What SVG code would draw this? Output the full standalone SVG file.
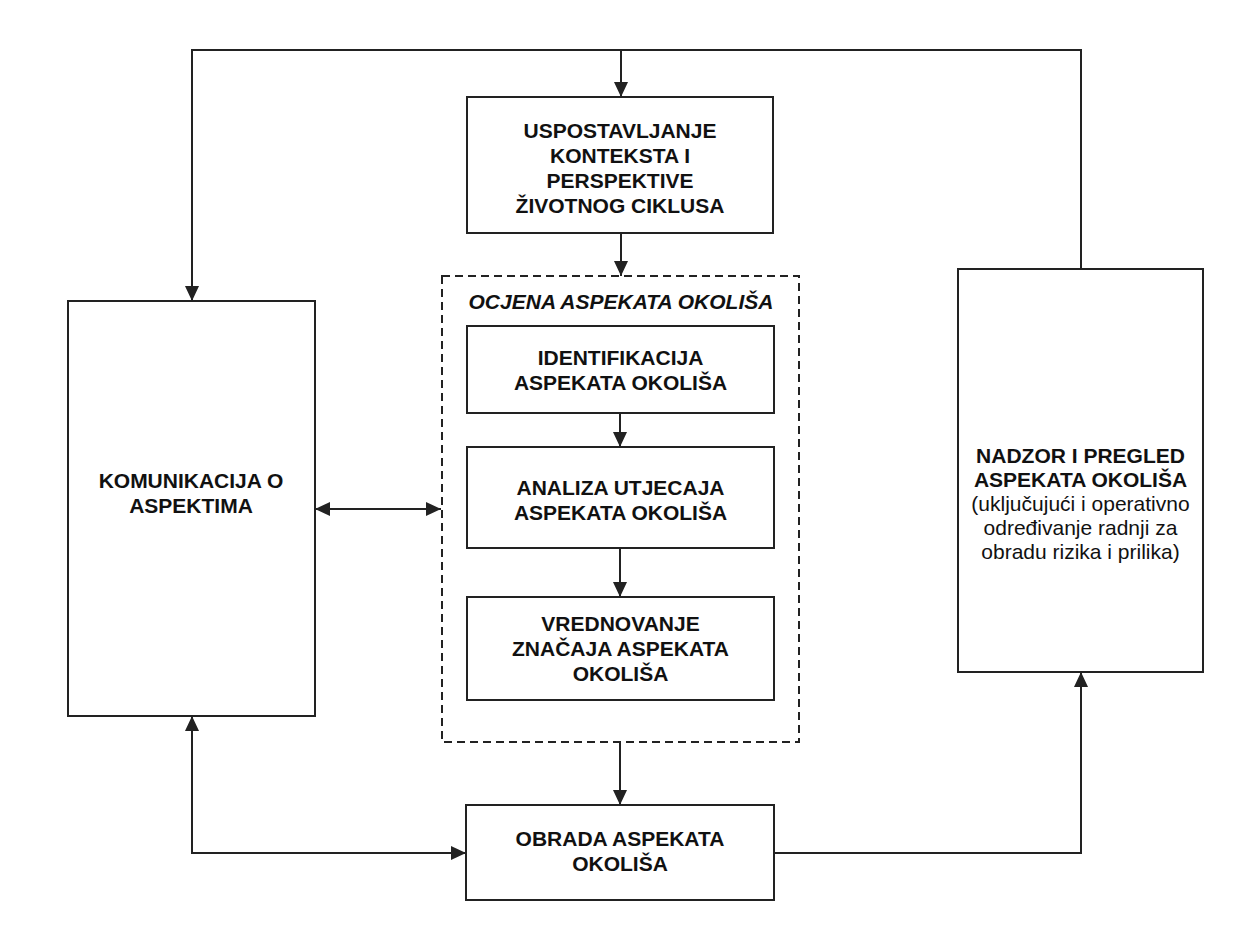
<svg xmlns="http://www.w3.org/2000/svg" width="1260" height="926" viewBox="0 0 1260 926">
  <defs>
    <marker id="arr" markerWidth="15" markerHeight="14" refX="15" refY="7" orient="auto-start-reverse" markerUnits="userSpaceOnUse">
      <path d="M0,0 L15,7 L0,14 Z" fill="#222"/>
    </marker>
    <style>
      .box { fill: #fff; stroke: #222; stroke-width: 2; }
      .dash { fill: none; stroke: #222; stroke-width: 2; stroke-dasharray: 8 5; }
      .con { fill: none; stroke: #222; stroke-width: 2; }
      .t { font-family: "Liberation Sans", Arial, sans-serif; font-size: 21px; font-weight: bold; fill: #111; text-anchor: middle; }
      .r { font-weight: normal; }
      .it { font-style: italic; }
    </style>
  </defs>
  <rect width="1260" height="926" fill="#fff"/>

  <g id="connectors">
    <polyline class="con" points="1081,269 1081,50 192,50 192,301" marker-end="url(#arr)"/>
    <line class="con" x1="621" y1="50" x2="621" y2="97" marker-end="url(#arr)"/>
    <line class="con" x1="621" y1="233" x2="621" y2="276" marker-end="url(#arr)"/>
    <line class="con" x1="620" y1="413" x2="620" y2="447" marker-end="url(#arr)"/>
    <line class="con" x1="620" y1="548" x2="620" y2="597" marker-end="url(#arr)"/>
    <line class="con" x1="620" y1="742" x2="620" y2="805" marker-end="url(#arr)"/>
    <line class="con" x1="315" y1="509" x2="441" y2="509" marker-start="url(#arr)" marker-end="url(#arr)"/>
    <polyline class="con" points="192,716 192,853 466,853" marker-start="url(#arr)" marker-end="url(#arr)"/>
    <polyline class="con" points="774,853 1081,853 1081,672" marker-end="url(#arr)"/>
  </g>

  <g id="kontekst">
    <rect class="box" x="467" y="97" width="306" height="136"/>
    <text class="t" x="620" y="137.5">USPOSTAVLJANJE</text>
    <text class="t" x="620" y="162.5">KONTEKSTA I</text>
    <text class="t" x="620" y="187.5">PERSPEKTIVE</text>
    <text class="t" x="620" y="212.5">ŽIVOTNOG CIKLUSA</text>
  </g>

  <g id="ocjena">
    <rect class="dash" x="442" y="276" width="357" height="466"/>
    <text class="t it" x="621" y="309">OCJENA ASPEKATA OKOLIŠA</text>
  </g>

  <g id="identifikacija">
    <rect class="box" x="467" y="326" width="307" height="87"/>
    <text class="t" x="620.5" y="364.5">IDENTIFIKACIJA</text>
    <text class="t" x="620.5" y="389.5">ASPEKATA OKOLIŠA</text>
  </g>

  <g id="analiza">
    <rect class="box" x="467" y="447" width="307" height="101"/>
    <text class="t" x="620.5" y="494.5">ANALIZA UTJECAJA</text>
    <text class="t" x="620.5" y="519.5">ASPEKATA OKOLIŠA</text>
  </g>

  <g id="vrednovanje">
    <rect class="box" x="467" y="597" width="307" height="103"/>
    <text class="t" x="620.5" y="630.5">VREDNOVANJE</text>
    <text class="t" x="620.5" y="655.5">ZNAČAJA ASPEKATA</text>
    <text class="t" x="620.5" y="680.5">OKOLIŠA</text>
  </g>

  <g id="obrada">
    <rect class="box" x="466" y="805" width="308" height="95"/>
    <text class="t" x="620" y="845.5">OBRADA ASPEKATA</text>
    <text class="t" x="620" y="870.5">OKOLIŠA</text>
  </g>

  <g id="komunikacija">
    <rect class="box" x="68" y="301" width="247" height="415"/>
    <text class="t" x="191" y="487.5">KOMUNIKACIJA O</text>
    <text class="t" x="191" y="512.5">ASPEKTIMA</text>
  </g>

  <g id="nadzor">
    <rect class="box" x="958" y="269" width="245" height="403"/>
    <text class="t" x="1080.5" y="462.5">NADZOR I PREGLED</text>
    <text class="t" x="1080.5" y="486.5">ASPEKATA OKOLIŠA</text>
    <text class="t r" x="1080.5" y="510.5">(uključujući i operativno</text>
    <text class="t r" x="1080.5" y="534.5">određivanje radnji za</text>
    <text class="t r" x="1080.5" y="558.5">obradu rizika i prilika)</text>
  </g>
</svg>
